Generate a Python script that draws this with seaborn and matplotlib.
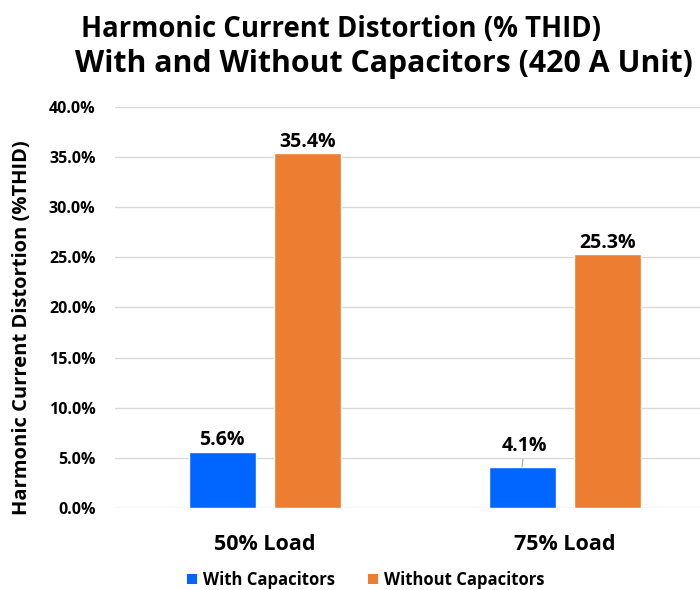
import matplotlib
matplotlib.use("Agg")
import matplotlib.pyplot as plt
import seaborn as sns
import pandas as pd
from matplotlib.ticker import FuncFormatter, MultipleLocator
from matplotlib.patches import Patch

categories = ["50% Load", "75% Load"]
series_names = ["With Capacitors", "Without Capacitors"]
with_caps = [5.6, 4.1]
without_caps = [35.4, 25.3]
colors = ["#0066FF", "#ED7D31"]
title_lines = ["Harmonic Current Distortion (% THID)",
               "With and Without Capacitors (420 A Unit)"]

df = pd.DataFrame({
    "Load": categories * 2,
    "Series": [series_names[0]] * 2 + [series_names[1]] * 2,
    "Value": with_caps + without_caps,
})

sns.set_theme(style="white")
plt.rcParams["font.family"] = ["Open Sans", "DejaVu Sans"]
for k in ["text.color", "axes.labelcolor", "xtick.color", "ytick.color"]:
    plt.rcParams[k] = "black"

W, H = 700, 590
fig = plt.figure(figsize=(7, 5.9), dpi=100)
ax = fig.add_axes([115 / W, 1 - 508 / H, 600 / W, (508 - 107) / H])

sns.barplot(data=df, x="Load", y="Value", hue="Series", palette=colors,
            width=0.573, gap=0.22, ax=ax, legend=False, saturation=1)

ax.set_ylim(0, 40)
ax.set_xlim(-0.5, 1.5)
ax.yaxis.set_major_locator(MultipleLocator(5))
ax.yaxis.set_major_formatter(FuncFormatter(lambda v, p: f"{v:.1f}%"))
ax.grid(axis="y", color="#d9d9d9", linewidth=1)
ax.set_axisbelow(True)
for s in ax.spines.values():
    s.set_visible(False)
ax.tick_params(axis="both", length=0)
ax.tick_params(axis="y", labelsize=11.5, pad=14)
ax.tick_params(axis="x", labelsize=15.5, pad=19)
for lab in ax.get_yticklabels() + ax.get_xticklabels():
    lab.set_fontweight("bold")
ax.set_xlabel("")
ax.set_ylabel("Harmonic Current Distortion (%THID)", fontsize=14.5, fontweight="bold")
ax.yaxis.set_label_coords((32 - 115) / 600, (508 - 328) / 401)

# data labels
for cont in ax.containers:
    for bar in cont:
        h = bar.get_height()
        cx = bar.get_x() + bar.get_width() / 2
        if abs(h - 4.1) < 1e-6:
            ax.annotate(f"{h:.1f}%", xy=(cx, h), xytext=(cx + 0.008, h + 1.1),
                        ha="center", va="bottom", fontsize=14, fontweight="bold",
                        arrowprops=dict(arrowstyle="-", color="#a6a6a6", lw=0.8,
                                        shrinkA=0, shrinkB=0))
        else:
            ax.text(cx, h + 0.15, f"{h:.1f}%", ha="center", va="bottom",
                    fontsize=14, fontweight="bold")

fig.text(341 / W, 1 - 37 / H, title_lines[0], ha="center", va="baseline",
         fontsize=19.8, fontweight="bold")
fig.text(384 / W, 1 - 72 / H, title_lines[1], ha="center", va="baseline",
         fontsize=21.8, fontweight="bold")

handles = [Patch(facecolor=c, edgecolor="none") for c in colors]
fig.legend(handles, series_names, loc="center", bbox_to_anchor=(366 / W, 1 - 580 / H),
           ncol=2, frameon=False, handlelength=0.6, handleheight=0.6, handletextpad=0.35,
           columnspacing=2.0, borderpad=0, prop={"size": 12, "weight": "bold"})

fig.savefig("out.png", dpi=100)
